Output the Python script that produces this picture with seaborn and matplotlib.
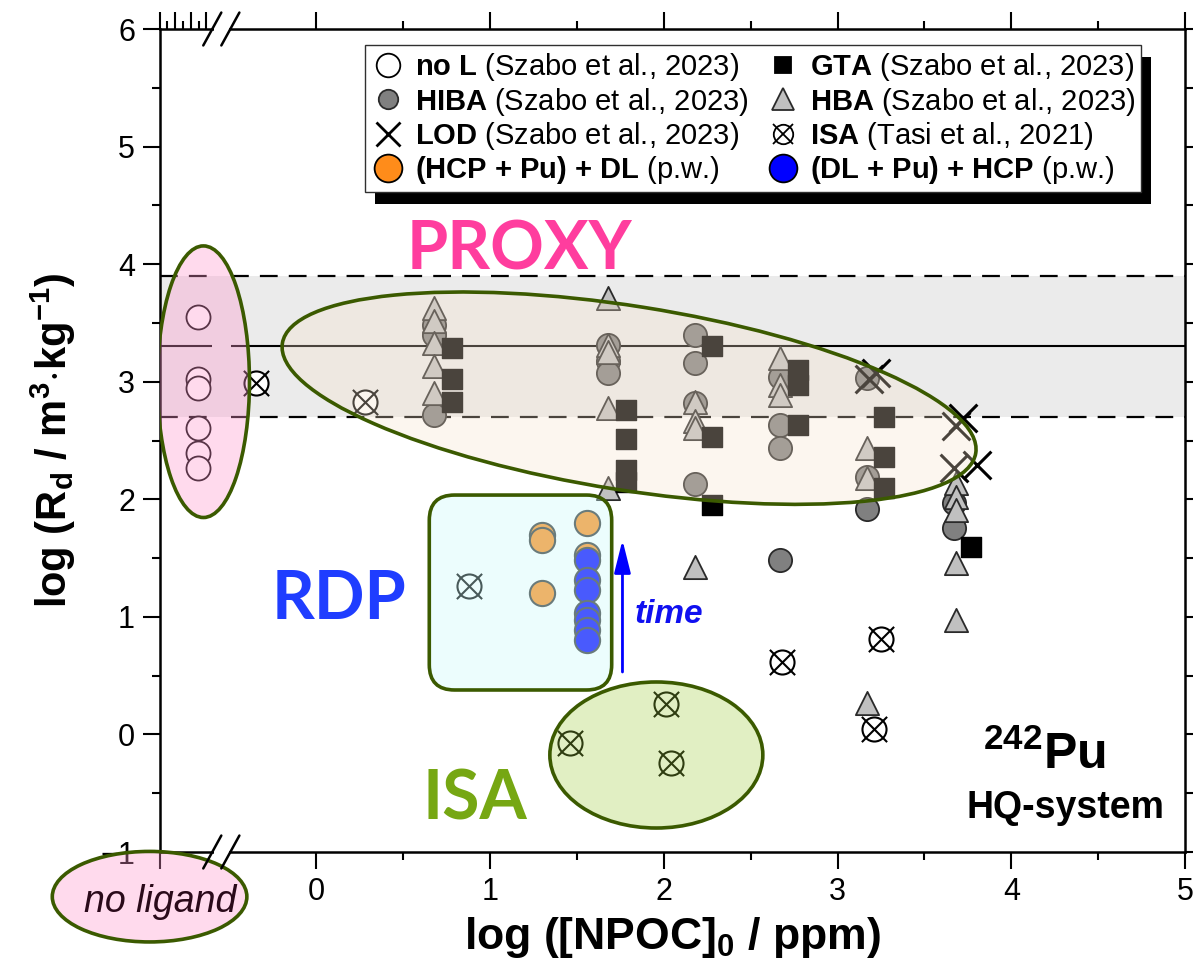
import numpy as np
import pandas as pd
import matplotlib
matplotlib.use("Agg")
import matplotlib.pyplot as plt
import matplotlib.transforms as mtransforms
import seaborn as sns
from matplotlib.patches import Ellipse, FancyBboxPatch, Rectangle
from matplotlib.lines import Line2D
from matplotlib.legend_handler import HandlerTuple

# ---- data: log(Rd) vs log([NPOC]0) ----
noL_x = [-0.68] * 6
noL_y = [3.55, 3.02, 2.95, 2.61, 2.39, 2.27]

hiba_x = [0.68] * 3 + [1.68] * 3 + [2.18] * 4 + [2.67] * 4 + [3.17] * 3 + [3.67] * 2
hiba_y = [3.48, 3.40, 2.72,
          3.31, 3.18, 3.07,
          3.40, 3.16, 2.82, 2.13,
          3.04, 2.63, 2.44, 1.48,
          3.03, 2.19, 1.92,
          1.97, 1.76]

hba_x = [0.68] * 5 + [1.68] * 5 + [2.18] * 4 + [2.67] * 3 + [3.17] * 3 + [3.68] * 5
hba_y = [3.63, 3.52, 3.33, 3.13, 2.90,
         3.71, 3.31, 3.25, 2.78, 2.10,
         2.83, 2.67, 2.61, 1.42,
         3.20, 2.97, 2.89,
         2.44, 2.18, 0.27,
         2.14, 2.02, 1.91, 1.46, 0.97]

gta_x = [0.78] * 3 + [1.78] * 4 + [2.28] * 3 + [2.77] * 3 + [3.27] * 3 + [3.77]
gta_y = [3.29, 3.02, 2.83,
         2.76, 2.51, 2.25, 2.15,
         3.30, 2.53, 1.95,
         3.10, 2.97, 2.63,
         2.70, 2.36, 2.10,
         1.59]

lod_x = [3.18, 3.22, 3.68, 3.72, 3.67, 3.80]
lod_y = [3.02, 3.07, 2.62, 2.69, 2.27, 2.29]

isa_x = [-0.345, 0.28, 0.88, 1.46, 2.01, 2.04, 2.68, 3.21, 3.25]
isa_y = [2.99, 2.83, 1.26, -0.07, 0.26, -0.24, 0.62, 0.05, 0.81]

hcp_dl_x = [1.30, 1.30, 1.30, 1.555, 1.555]
hcp_dl_y = [1.70, 1.65, 1.20, 1.80, 1.53]

dl_hcp_x = [1.555] * 7
dl_hcp_y = [1.48, 1.31, 1.23, 1.03, 0.97, 0.89, 0.80]

# mean and range of the no-ligand Rd
rd_mean, rd_low, rd_high = 3.3, 2.7, 3.9

legend_labels = [
    r"$\mathbf{no\ L}$ (Szabo et al., 2023)",
    r"$\mathbf{HIBA}$ (Szabo et al., 2023)",
    r"$\mathbf{LOD}$ (Szabo et al., 2023)",
    r"$\mathbf{(HCP\ {+}\ Pu)\ {+}\ DL}$ (p.w.)",
    r"$\mathbf{GTA}$ (Szabo et al., 2023)",
    r"$\mathbf{HBA}$ (Szabo et al., 2023)",
    r"$\mathbf{ISA}$ (Tasi et al., 2021)",
    r"$\mathbf{(DL\ {+}\ Pu)\ {+}\ HCP}$ (p.w.)",
]

sns.set_style("ticks")
plt.rcParams["font.family"] = ["Liberation Sans", "DejaVu Sans"]
plt.rcParams["mathtext.fontset"] = "custom"
plt.rcParams["mathtext.rm"] = "Liberation Sans"
plt.rcParams["mathtext.bf"] = "Liberation Sans:bold"
plt.rcParams["mathtext.it"] = "Liberation Sans:italic"
for k in ("text.color", "axes.labelcolor", "xtick.color", "ytick.color", "axes.edgecolor"):
    plt.rcParams[k] = "black"

fig = plt.figure(figsize=(11.93, 9.76), dpi=100)
ax = fig.add_axes([160 / 1193, 124 / 976, 1025 / 1193, 823 / 976])
ax.set_xlim(-0.9, 5.0)
ax.set_ylim(-1, 6)

olive = "#3b5a00"
brk_l, brk_r = -0.60, -0.49

# grey band + lines (broken at the axis break)
ax.axhspan(rd_low, rd_high, color="#ebebeb", lw=0, zorder=0)
ax.hlines([rd_mean, rd_mean], [-0.9, brk_r], [brk_l, 5.0], colors="black", lw=1.5, zorder=1)
for yv in (rd_low, rd_high):
    ax.hlines([yv, yv], [-0.9, brk_r], [brk_l, 5.0], colors="black", lw=1.6,
              linestyles=[(0, (8, 5))], zorder=1)

# scatter series
kw = dict(ax=ax, legend=False, zorder=3)
sns.scatterplot(x=noL_x, y=noL_y, marker="o", s=300, color="white", edgecolor="black", linewidth=1.3, **kw)
sns.scatterplot(x=hiba_x, y=hiba_y, marker="o", s=280, color="#808080", edgecolor="#2a2a2a", linewidth=1.3, **kw)
sns.scatterplot(x=hba_x, y=hba_y, marker="^", s=280, color="#c0c0c0", edgecolor="#2a2a2a", linewidth=1.3, **kw)
sns.scatterplot(x=gta_x, y=gta_y, marker="s", s=190, color="black", edgecolor="black", linewidth=1, **kw)
sns.scatterplot(x=lod_x, y=lod_y, marker="x", s=400, color="black", linewidth=2.2, **kw)
sns.scatterplot(x=isa_x, y=isa_y, marker="o", s=300, color="white", edgecolor="black", linewidth=1.5, **kw)
sns.scatterplot(x=isa_x, y=isa_y, marker="x", s=330, color="black", linewidth=1.5, **kw)
sns.scatterplot(x=hcp_dl_x, y=hcp_dl_y, marker="o", s=330, color="#ff8c1a", edgecolor="#333333", linewidth=1.5, **kw)
sns.scatterplot(x=dl_hcp_x, y=dl_hcp_y, marker="o", s=330, color="#0000ff", edgecolor="#333333", linewidth=1.5, **kw)

# translucent groupings drawn over the markers
ax.add_patch(Ellipse((-0.65, 3.0), 0.53, 2.31, fc=(1.0, 0.59, 0.8, 0.35), ec=olive, lw=2.6, zorder=4))
cen = ax.transData.transform((1.80, 2.86))
tr = mtransforms.Affine2D().scale(351, 92).rotate_deg(-9).translate(*cen)
ax.add_patch(Ellipse((0, 0), 2, 2, transform=tr, fc=(0.973, 0.894, 0.804, 0.3), ec=olive, lw=2.6, zorder=4))
ax.add_patch(FancyBboxPatch((0.65, 0.378), 1.05, 1.658, boxstyle="round,pad=0,rounding_size=0.145",
                            mutation_aspect=1.48, fc=(0.8, 0.99, 0.99, 0.36), ec=olive, lw=2.6, zorder=4))
ax.add_patch(Ellipse((1.957, -0.175), 1.226, 1.242, fc=(0.62, 0.8, 0.23, 0.3), ec=olive, lw=2.6, zorder=4))
ax.add_patch(Ellipse((-0.96, -1.38), 1.12, 0.77, fc=(1.0, 0.59, 0.8, 0.35), ec=olive, lw=2.6,
                     clip_on=False, zorder=6))
ax.text(-0.898, -1.425, "no ligand", style="italic", fontsize=27, color="#2a0a1a",
        ha="center", va="center", clip_on=False, zorder=7)

# labels inside the plot
ax.text(1.17, 4.12, "PROXY", family="Lato", weight="bold", fontsize=48, color="#ff3d9e",
        ha="center", va="center", zorder=6)
ax.text(0.13, 1.14, "RDP", family="Lato", weight="bold", fontsize=48, color="#1f3dff",
        ha="center", va="center", zorder=6)
ax.text(0.915, -0.56, "ISA", family="Lato", weight="bold", fontsize=49, color="#76a713",
        ha="center", va="center", zorder=6)
ax.annotate("", xy=(1.762, 1.654), xytext=(1.762, 0.531),
            arrowprops=dict(arrowstyle="-|>,head_length=1.0,head_width=0.25", color="#0000ff",
                            lw=2, mutation_scale=20, shrinkA=0, shrinkB=0), zorder=6)
ax.text(2.03, 1.02, "time", weight="bold", style="italic", fontsize=24, color="#1010f0",
        ha="center", va="center", zorder=6)
ax.text(4.19, -0.175, r"$^{\mathbf{242}}$Pu", weight="bold", fontsize=36, ha="center", va="center", zorder=6)
ax.text(4.31, -0.63, "HQ-system", weight="bold", fontsize=27, ha="center", va="center", zorder=6)

# axes, ticks
for sp in ax.spines.values():
    sp.set_linewidth(1.8)
    sp.set_color("black")
ax.set_xticks([-0.9, 0, 1, 2, 3, 4, 5])
ax.set_xticklabels(["", "0", "1", "2", "3", "4", "5"])
ax.set_xticks([0.5, 1.5, 2.5, 3.5, 4.5], minor=True)
ax.set_yticks(range(-1, 7))
ax.set_yticks(np.arange(-0.5, 6, 1.0), minor=True)
ax.tick_params(which="both", direction="out", width=1.5, labelsize=22, top=False, right=True,
               labelright=False, pad=6, colors="black")
ax.tick_params(which="major", length=12)
ax.tick_params(which="minor", length=6)

top = ax.secondary_xaxis("top")
top.set_xticks([-0.9, -0.815, -0.72, -0.635, 0, 1, 2, 3, 4, 5])
top.set_xticks([-0.86, -0.77, -0.675, 0.5, 1.5, 2.5, 3.5, 4.5], minor=True)
top.tick_params(which="both", direction="out", width=1.5, labeltop=False, colors="black")
top.tick_params(which="major", length=12)
top.tick_params(which="minor", length=6)
top.spines["top"].set_visible(False)

# axis break marks
xt = ax.get_xaxis_transform()
for yb in (0, 1):
    ax.plot([brk_l + 0.012, brk_r - 0.012], [yb, yb], transform=xt, color="white", lw=4,
            clip_on=False, zorder=7, solid_capstyle="butt")
    for xb in (-0.599, -0.495):
        ax.plot([xb - 0.052, xb + 0.052], [yb - 0.02, yb + 0.02], transform=xt, color="black",
                lw=1.8, clip_on=False, zorder=8)

ax.set_xlabel(r"log ([NPOC]$_\mathbf{0}$ / ppm)", fontsize=32, weight="bold", labelpad=6)
ax.set_ylabel(r"log (R$_\mathbf{d}$ / m$^\mathbf{3}$$\cdot$kg$^\mathbf{-1}$)", fontsize=30, weight="bold",
              labelpad=16)

# legend
def mk(marker, ms, fc, ec, mew=1.3):
    return Line2D([], [], ls="none", marker=marker, ms=ms, mfc=fc, mec=ec, mew=mew)

handles = [
    mk("o", 17, "white", "black"),
    mk("o", 14, "#808080", "#2a2a2a"),
    Line2D([], [], ls="none", marker="x", ms=17, color="black", mew=2),
    mk("o", 20, "#ff8c1a", "black"),
    mk("s", 12, "black", "black"),
    mk("^", 16, "#c0c0c0", "#2a2a2a"),
    (mk("o", 14, "white", "black"), Line2D([], [], ls="none", marker="x", ms=14, color="black", mew=1.3)),
    mk("o", 20, "#0000ff", "black"),
]
leg = ax.legend(handles, legend_labels, ncol=2, loc="upper left", bbox_to_anchor=(0.2, 0.98),
                fontsize=21, frameon=True, fancybox=False, edgecolor="#303030", framealpha=1,
                borderpad=0.2, labelspacing=0.08, handletextpad=0.3, columnspacing=0.6,
                handlelength=1.2, borderaxespad=0, handler_map={tuple: HandlerTuple(ndivide=1)})
leg.get_frame().set_linewidth(1.0)
leg.set_zorder(20)

# black drop shadow behind legend
fig.canvas.draw()
bb = leg.get_window_extent()
inv = ax.transAxes.inverted()
(x0, y0), (x1, y1) = inv.transform([(bb.x0 + 10, bb.y0 - 12), (bb.x1 + 10, bb.y1 - 12)])
ax.add_patch(Rectangle((x0, y0), x1 - x0, y1 - y0, transform=ax.transAxes, fc="black", ec="none",
                       clip_on=False, zorder=19))

fig.savefig("out.png", dpi=100)
